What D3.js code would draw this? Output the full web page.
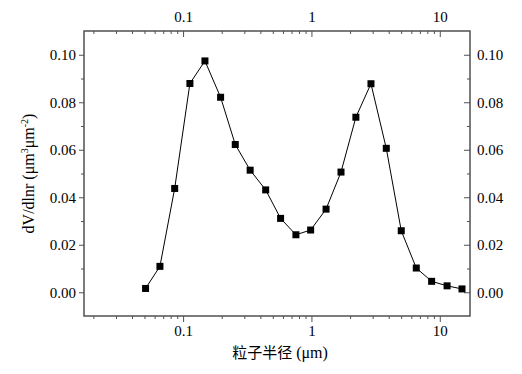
<!DOCTYPE html>
<html>
<head>
<meta charset="utf-8">
<script src="https://cdn.jsdelivr.net/npm/d3@7"></script>
<style>
  body { margin: 0; background: #fff; }
  text { font-family: "Liberation Serif", "Times New Roman", serif; }
</style>
</head>
<body>
<script>
var w = 522;
var h = 374;

// particle radius (um) and dV/dlnr
var radius = [0.051, 0.066, 0.086, 0.113, 0.148, 0.196, 0.255, 0.333, 0.44, 0.575, 0.757, 0.986,
              1.30, 1.70, 2.22, 2.91, 3.83, 5.01, 6.56, 8.64, 11.4, 14.9];
var dvdlnr = [0.0016, 0.0109, 0.0437, 0.0879, 0.0974, 0.0821, 0.0622, 0.0514, 0.0431, 0.0311, 0.0242, 0.0262,
              0.0350, 0.0506, 0.0737, 0.0878, 0.0606, 0.0259, 0.0102, 0.0046, 0.0027, 0.0014];
var xTickValues = [0.1, 1, 10];
var yTickValues = [0, 0.02, 0.04, 0.06, 0.08, 0.10];

// plot box (note: "top" is reserved on window, so use other names)
var pLeft = 84, pRight = 470, pTop = 31, pBottom = 316;

var x = d3.scaleLog()
    .domain([0.0169, 17.2])
    .range([pLeft, pRight]);

var y = d3.scaleLinear()
    .domain([-0.01, 0.11])
    .range([pBottom, pTop]);

var svg = d3.select("body")
    .append("svg")
    .attr("width", w)
    .attr("height", h);

// minor ticks: 2..9 in each decade
var xMinor = [];
[0.01, 0.1, 1, 10].forEach(function (d) {
    for (var k = 2; k <= 9; k++) {
        var v = d * k;
        if (v > x.domain()[0] && v < x.domain()[1]) xMinor.push(v);
    }
});
var yMinor = [0.01, 0.03, 0.05, 0.07, 0.09];

var fmtY = d3.format(".2f");
var fmtX = function (d) { return d3.format("~g")(d); };
var axisColor = "#505050";

function noDomain(g) { g.select(".domain").remove(); }

// bottom axis (ticks out)
svg.append("g")
    .attr("transform", "translate(0," + pBottom + ")")
    .call(d3.axisBottom(x).tickValues(xTickValues).tickFormat(fmtX).tickSize(6).tickPadding(3))
    .call(noDomain);
svg.append("g")
    .attr("transform", "translate(0," + pBottom + ")")
    .call(d3.axisBottom(x).tickValues(xMinor).tickFormat("").tickSize(3))
    .call(noDomain);

// top axis (ticks in, labels out)
svg.append("g")
    .attr("transform", "translate(0," + pTop + ")")
    .call(d3.axisTop(x).tickValues(xTickValues).tickFormat(fmtX).tickSize(-6).tickPadding(9))
    .call(noDomain);
svg.append("g")
    .attr("transform", "translate(0," + pTop + ")")
    .call(d3.axisTop(x).tickValues(xMinor).tickFormat("").tickSize(-3))
    .call(noDomain);

// left axis (ticks out)
svg.append("g")
    .attr("transform", "translate(" + pLeft + ",0)")
    .call(d3.axisLeft(y).tickValues(yTickValues).tickFormat(fmtY).tickSize(5).tickPadding(3))
    .call(noDomain);
svg.append("g")
    .attr("transform", "translate(" + pLeft + ",0)")
    .call(d3.axisLeft(y).tickValues(yMinor).tickFormat("").tickSize(3))
    .call(noDomain);

// right axis (ticks in, labels out)
svg.append("g")
    .attr("transform", "translate(" + pRight + ",0)")
    .call(d3.axisRight(y).tickValues(yTickValues).tickFormat(fmtY).tickSize(-6).tickPadding(7))
    .call(noDomain);
svg.append("g")
    .attr("transform", "translate(" + pRight + ",0)")
    .call(d3.axisRight(y).tickValues(yMinor).tickFormat("").tickSize(-3))
    .call(noDomain);

svg.selectAll(".tick line").attr("stroke", axisColor);
svg.selectAll(".tick text")
    .attr("font-size", 15)
    .attr("fill", "#000")
    .style("font-family", "'Liberation Serif', serif");

// frame
svg.append("rect")
    .attr("x", pLeft)
    .attr("y", pTop)
    .attr("width", pRight - pLeft)
    .attr("height", pBottom - pTop)
    .attr("fill", "none")
    .attr("stroke", axisColor)
    .attr("stroke-width", 1.5);

var pts = radius.map(function (r, i) { return [r, dvdlnr[i]]; });

var line = d3.line()
    .x(function (d) { return x(d[0]); })
    .y(function (d) { return y(d[1]); });

svg.append("path")
    .datum(pts)
    .attr("fill", "none")
    .attr("stroke", "#000")
    .attr("stroke-width", 1)
    .attr("d", line);

var ms = 7;
svg.selectAll("rect.pt")
    .data(pts)
    .enter()
    .append("rect")
    .attr("class", "pt")
    .attr("x", function (d) { return x(d[0]) - ms / 2; })
    .attr("y", function (d) { return y(d[1]) - ms / 2; })
    .attr("width", ms)
    .attr("height", ms)
    .attr("fill", "#000");

// axis titles
var xt = svg.append("text")
    .attr("x", (pLeft + pRight) / 2 + 3)
    .attr("y", 358)
    .attr("text-anchor", "middle")
    .attr("font-size", 16);
xt.append("tspan")
    .style("font-family", "'Noto Sans CJK SC', sans-serif")
    .attr("font-size", 15)
    .text("粒子半径");
xt.append("tspan").text(" (μm)");

var yt = svg.append("text")
    .attr("transform", "translate(34," + ((pTop + pBottom) / 2) + ") rotate(-90)")
    .attr("text-anchor", "middle")
    .attr("font-size", 16);
yt.append("tspan").text("dV/dlnr (μm");
yt.append("tspan").attr("dy", -6).attr("font-size", 10).text("3");
yt.append("tspan").attr("dy", 6).text("μm");
yt.append("tspan").attr("dy", -6).attr("font-size", 10).text("-2");
yt.append("tspan").attr("dy", 6).text(")");
</script>
</body>
</html>
